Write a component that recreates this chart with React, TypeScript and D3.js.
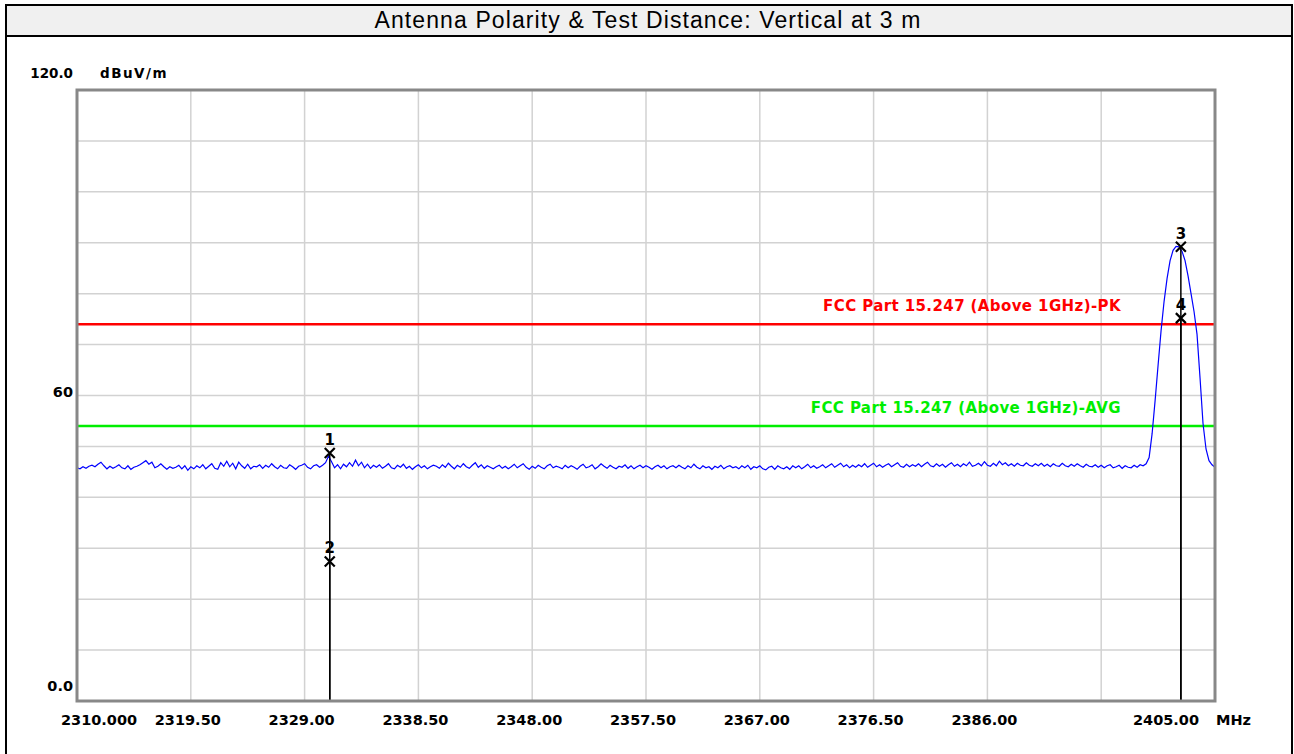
import React, { useEffect, useRef } from "react";
import * as d3 from "d3";

// sweep: 2310 MHz .. 2405 MHz, one reading every 0.25 MHz
const sweepStart = 2310;
const sweepStep = 0.25;

// 2310.00 .. 2399.00 MHz (dBuV/m)
const noiseFloor = [
  45.8, 45.6, 46.0, 45.7, 46.1, 46.3, 46.0, 46.5, 46.9, 46.2, 45.6, 46.1, 45.7, 46.0, 46.4, 45.8, 45.6, 46.2, 45.5, 45.9,
  46.1, 46.4, 46.8, 47.2, 46.5, 46.9, 45.8, 46.1, 46.6, 46.0, 45.5, 46.0, 45.7, 45.9, 46.3, 45.6, 46.2, 45.3, 46.0, 45.6,
  46.2, 45.8, 46.4, 45.6, 46.1, 46.6, 45.7, 45.5, 46.8, 46.1, 47.1, 46.0, 46.7, 45.6, 46.9, 46.2, 45.7, 46.5, 45.6, 46.1,
  46.0, 46.4, 45.7, 46.3, 45.9, 46.6, 46.0, 45.6, 46.3, 45.8, 45.7, 46.4, 46.0, 45.5, 46.1, 46.3, 46.6, 45.9, 45.6, 46.2,
  46.4, 45.9, 46.3, 46.8, 48.1, 47.0, 45.8, 46.4, 45.6, 46.5, 46.0, 46.8, 46.1, 47.3, 46.2, 46.9, 45.8, 46.5, 45.7, 46.3,
  45.9, 46.4, 45.7, 46.1, 46.6, 45.8, 45.6, 46.3, 45.9, 46.5, 45.7, 46.1, 45.5, 46.0, 46.4, 45.8, 46.2, 45.6, 46.0, 46.3,
  46.1, 45.7, 46.4, 45.9, 46.7, 46.1, 45.6, 46.3, 45.9, 46.6, 46.0, 45.7, 46.3, 46.8, 45.9, 46.4, 45.7, 46.2, 45.9, 45.6,
  46.0, 46.3, 45.7, 46.1, 45.6, 46.0, 46.5, 45.8, 46.2, 46.6, 45.9, 45.5, 46.1, 45.7, 46.3, 45.9, 45.6, 46.2, 46.5, 45.8,
  46.1, 45.9, 45.6, 46.3, 45.8, 46.2, 45.9, 45.5, 46.1, 46.5, 45.8, 46.0, 46.4, 45.6, 46.0, 46.6, 46.1, 45.7, 46.3, 45.9,
  45.6, 46.1, 45.9, 46.4, 45.7, 46.2, 45.6, 46.0, 46.3, 45.8, 46.2, 45.9, 45.5, 46.0, 46.3, 45.8, 46.2, 45.6, 46.0, 46.2,
  45.8, 46.3, 45.9, 45.6, 46.2, 45.8, 46.5, 45.9, 45.6, 46.2, 45.8, 46.0, 45.5, 46.1, 45.8, 46.3, 45.6, 46.0, 46.2, 45.8,
  46.0, 45.6, 46.2, 45.8, 46.3, 45.5, 46.0, 45.8, 46.2, 45.6, 45.4, 45.9, 46.1, 45.5, 46.2, 45.8, 45.6, 46.0, 45.5, 46.2,
  45.8, 46.2, 45.6, 46.0, 46.5, 45.8, 46.2, 45.7, 46.0, 46.4, 45.8, 46.2, 46.6, 45.9, 46.3, 46.7, 46.0, 46.4, 45.8, 46.3,
  45.9, 46.4, 46.0, 46.6, 45.9, 46.3, 46.7, 46.0, 46.4, 45.9, 46.3, 46.6, 46.0, 46.4, 46.8, 46.1, 45.9, 46.5, 46.0, 46.4,
  46.1, 46.6, 46.0, 46.5, 46.9, 46.2, 46.0, 46.6, 46.1, 46.5, 45.9, 46.4, 46.8, 46.1, 46.5, 46.0, 46.6, 46.2, 46.9, 46.1,
  46.3, 46.7, 46.2, 47.0, 46.3, 46.1, 46.7, 46.2, 47.1, 46.4, 46.8, 46.2, 46.6, 46.1, 46.7, 46.3, 46.2, 46.8, 46.3, 46.1,
  46.6, 46.2, 46.7, 46.1, 46.5, 46.0, 46.6, 46.2, 46.1, 46.7, 46.2, 46.0, 46.5, 46.1, 46.6, 46.2, 45.9, 46.5, 46.1, 46.0,
  46.4, 45.9, 46.3, 45.8, 46.2, 46.4, 45.8, 46.0, 46.3, 45.7, 46.2, 45.9, 45.8, 46.3, 45.9, 46.4, 46.2,
];

// 2399.25 .. 2405.00 MHz, the carrier
const carrierPeak = [
  46.6, 47.8, 52.5, 59.0, 66.0, 72.8, 78.5, 83.0, 86.5, 88.5, 89.3, 89.2,
  88.3, 86.5, 83.5, 80.0, 76.5, 72.0, 63.5, 54.5, 49.5, 47.2, 46.4, 45.9,
];

const xTicks = [2310, 2319.5, 2329, 2338.5, 2348, 2357.5, 2367, 2376.5, 2386, 2395.5, 2405];
const xTickLabels = [
  "2310.000", "2319.50", "2329.00", "2338.50", "2348.00", "2357.50",
  "2367.00", "2376.50", "2386.00", "", "2405.00",
];
const yGrid = [10, 20, 30, 40, 50, 60, 70, 80, 90, 100, 110];
const yTicks = [120, 60, 0];
const yTickLabels = ["120.0", "60", "0.0"];

const limitLevels = [74, 54];
const limitLabels = ["FCC Part 15.247 (Above 1GHz)-PK", "FCC Part 15.247 (Above 1GHz)-AVG"];
const limitColors = ["#ff0000", "#00ee00"];

const markerIds = ["1", "2", "3", "4"];
const markerFreqs = [2331.1, 2331.1, 2402.15, 2402.15];
const markerLevels = [48.7, 27.4, 89.2, 75.2];

export default function App() {
  const svgRef = useRef<SVGSVGElement>(null);

  useEffect(() => {
    if (!svgRef.current) return;
    const svg = d3.select(svgRef.current);
    svg.selectAll("*").remove();

    const left = 77,
      right = 1215,
      top = 90,
      bottom = 701;
    const boldFont = "'DejaVu Sans', sans-serif";

    var x = d3.scaleLinear().domain([2310, 2405]).range([left, right]);
    var y = d3.scaleLinear().domain([0, 120]).range([bottom, top]);

    // outer frame + title bar
    svg
      .append("rect")
      .attr("x", 6)
      .attr("y", 5)
      .attr("width", 1286)
      .attr("height", 800)
      .attr("fill", "white")
      .attr("stroke", "black")
      .attr("stroke-width", 2);
    svg
      .append("rect")
      .attr("x", 6)
      .attr("y", 5)
      .attr("width", 1286)
      .attr("height", 31)
      .attr("fill", "#f0f0f0")
      .attr("stroke", "black")
      .attr("stroke-width", 2);
    svg
      .append("text")
      .attr("x", 648)
      .attr("y", 28)
      .attr("text-anchor", "middle")
      .style("font-family", "'Liberation Sans', Arial, sans-serif")
      .style("font-size", "23px")
      .style("letter-spacing", "1.1px")
      .text("Antenna Polarity & Test Distance: Vertical at 3 m");

    // grid
    svg
      .selectAll("line.vgrid")
      .data(xTicks.slice(1, -1))
      .enter()
      .append("line")
      .attr("x1", (d) => x(d))
      .attr("x2", (d) => x(d))
      .attr("y1", top)
      .attr("y2", bottom)
      .attr("stroke", "#d2d2d2")
      .attr("stroke-width", 1.5);
    svg
      .selectAll("line.hgrid")
      .data(yGrid)
      .enter()
      .append("line")
      .attr("x1", left)
      .attr("x2", right)
      .attr("y1", (d) => y(d))
      .attr("y2", (d) => y(d))
      .attr("stroke", "#d2d2d2")
      .attr("stroke-width", 1.5);

    // limit lines
    limitLevels.forEach((lv, i) => {
      svg
        .append("line")
        .attr("x1", left)
        .attr("x2", right)
        .attr("y1", y(lv))
        .attr("y2", y(lv))
        .attr("stroke", limitColors[i])
        .attr("stroke-width", 2.5);
      svg
        .append("text")
        .attr("x", 1121)
        .attr("y", y(lv) - 13)
        .attr("text-anchor", "end")
        .attr("fill", limitColors[i])
        .style("font-family", boldFont)
        .style("font-weight", "bold")
        .style("font-size", "15px")
        .style("letter-spacing", "0.4px")
        .text(limitLabels[i]);
    });

    // trace
    const levels = noiseFloor.concat(carrierPeak);
    const line = d3
      .line<number>()
      .x((d, i) => x(sweepStart + i * sweepStep))
      .y((d) => y(d));
    svg
      .append("path")
      .datum(levels)
      .attr("d", line)
      .attr("fill", "none")
      .attr("stroke", "#0000ff")
      .attr("stroke-width", 1.2);

    // markers
    markerIds.forEach((id, i) => {
      const mx = x(markerFreqs[i]);
      const my = y(markerLevels[i]);
      svg
        .append("line")
        .attr("x1", mx)
        .attr("x2", mx)
        .attr("y1", my)
        .attr("y2", bottom)
        .attr("stroke", "black")
        .attr("stroke-width", 1.5);
      svg
        .append("path")
        .attr("d", `M${mx - 5},${my - 5}L${mx + 5},${my + 5}M${mx - 5},${my + 5}L${mx + 5},${my - 5}`)
        .attr("stroke", "black")
        .attr("stroke-width", 2.2);
      svg
        .append("text")
        .attr("x", mx)
        .attr("y", my - 8)
        .attr("text-anchor", "middle")
        .style("font-family", boldFont)
        .style("font-weight", "bold")
        .style("font-size", "15px")
        .text(id);
    });

    // plot border
    svg
      .append("rect")
      .attr("x", left)
      .attr("y", top)
      .attr("width", right - left)
      .attr("height", bottom - top)
      .attr("fill", "none")
      .attr("stroke", "#888888")
      .attr("stroke-width", 3);

    // x labels
    svg
      .selectAll("text.xlab")
      .data(xTicks)
      .enter()
      .append("text")
      .attr("x", (d, i) =>
        i === 0 ? x(d) - 16 : i === xTicks.length - 1 ? x(d) - 16 : x(d) - 3
      )
      .attr("y", 725)
      .attr("text-anchor", (d, i) =>
        i === 0 ? "start" : i === xTicks.length - 1 ? "end" : "middle"
      )
      .style("font-family", boldFont)
      .style("font-weight", "bold")
      .style("font-size", "14.5px")
      .text((d, i) => xTickLabels[i]);
    svg
      .append("text")
      .attr("x", right + 1)
      .attr("y", 725)
      .style("font-family", boldFont)
      .style("font-weight", "bold")
      .style("font-size", "14.5px")
      .text("MHz");

    // y labels
    const yOff = [-12, 1, -10];
    svg
      .selectAll("text.ylab")
      .data(yTicks)
      .enter()
      .append("text")
      .attr("x", 73)
      .attr("y", (d, i) => y(d) + yOff[i])
      .attr("text-anchor", "end")
      .style("font-family", boldFont)
      .style("font-weight", "bold")
      .style("font-size", (d, i) => (i === 0 ? "13.5px" : "14.5px"))
      .text((d, i) => yTickLabels[i]);
    svg
      .append("text")
      .attr("x", 100)
      .attr("y", y(120) - 12)
      .style("font-family", boldFont)
      .style("font-weight", "bold")
      .style("font-size", "13.5px")
      .style("letter-spacing", "1.5px")
      .text("dBuV/m");
  }, []);

  return (
    <svg
      ref={svgRef}
      width={1294}
      height={754}
      style={{ position: "absolute", left: 0, top: 0, display: "block", background: "white" }}
    ></svg>
  );
}
